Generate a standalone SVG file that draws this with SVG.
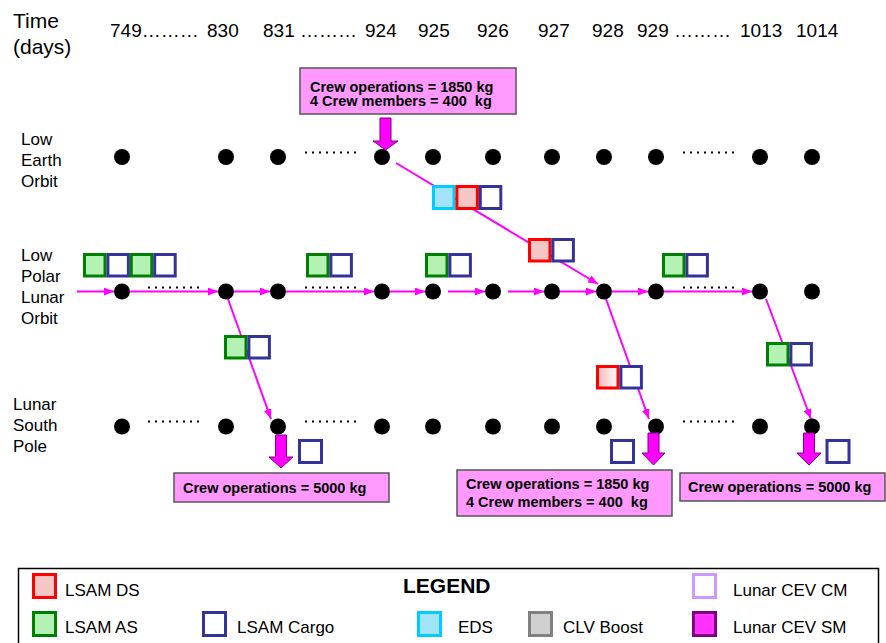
<svg xmlns="http://www.w3.org/2000/svg" width="886" height="643" viewBox="0 0 886 643">
<style>
text{font-family:"Liberation Sans",Arial,sans-serif;fill:#000}
.hdr{font-size:19px}
.lbl{font-size:17px}
.ell{stroke:#000;stroke-width:2;stroke-dasharray:2 5;fill:none}
.co{font-size:14.5px;font-weight:bold}
.lg{font-size:17px}
.dot{fill:#000}
.cn{stroke:#FF00FF;stroke-width:2;fill:none;marker-end:url(#ah)}
.bx{stroke-width:3}
.g{stroke:#008000;fill:#B3F2B3}
.b{stroke:#333399;fill:#fff}
.r{stroke:#FF0000;fill:#F5C6C6}
.rg{stroke:#FF0000;fill:url(#rgrad)}
.c{stroke:#00CCFF;fill:#A3E3F7}
.gy{stroke:#808080;fill:#D0D0D0}
.cm{stroke:#CC99FF;fill:#fff}
.sm{stroke:#800080;fill:#FF33FF}
.call{fill:#FF99FF;stroke:#555;stroke-width:1.5}
.big{fill:#FF00FF;stroke:#800080;stroke-width:1}
</style>
<defs>
<marker id="ah" markerUnits="userSpaceOnUse" markerWidth="10" markerHeight="8" refX="10" refY="4" orient="auto">
<path d="M0,0 L10,4 L0,8 z" fill="#FF00FF"/>
</marker>
<linearGradient id="rgrad" x1="0" y1="0" x2="1" y2="0">
<stop offset="0" stop-color="#F5B8B8"/>
<stop offset="1" stop-color="#FFFFFF"/>
</linearGradient>
</defs>

<g id="header">
<text class="hdr" x="13" y="28" style="font-size:21px">Time</text>
<text class="hdr" x="13" y="54" style="font-size:21px">(days)</text>
<text class="hdr" x="110" y="36.5">749………</text>
<text class="hdr" x="207" y="36.5">830</text>
<text class="hdr" x="263" y="36.5">831 ………</text>
<text class="hdr" x="365" y="36.5">924</text>
<text class="hdr" x="418" y="36.5">925</text>
<text class="hdr" x="477" y="36.5">926</text>
<text class="hdr" x="538" y="36.5">927</text>
<text class="hdr" x="592" y="36.5">928</text>
<text class="hdr" x="637" y="36.5">929 ………</text>
<text class="hdr" x="740" y="36.5">1013</text>
<text class="hdr" x="796" y="36.5">1014</text>
</g>

<g id="row-labels">
<text class="lbl" x="21" y="145">Low</text>
<text class="lbl" x="21" y="166">Earth</text>
<text class="lbl" x="21" y="187">Orbit</text>
<text class="lbl" x="21" y="261">Low</text>
<text class="lbl" x="21" y="282">Polar</text>
<text class="lbl" x="21" y="303">Lunar</text>
<text class="lbl" x="21" y="324">Orbit</text>
<text class="lbl" x="13" y="410">Lunar</text>
<text class="lbl" x="13" y="431">South</text>
<text class="lbl" x="13" y="452">Pole</text>
</g>

<g id="connectors">
<line class="cn" x1="77" y1="291.5" x2="114" y2="291.5"/>
<line class="cn" x1="130" y1="291.5" x2="218" y2="291.5"/>
<line class="cn" x1="234" y1="291.5" x2="270" y2="291.5"/>
<line class="cn" x1="286" y1="291.5" x2="374" y2="291.5"/>
<line class="cn" x1="390" y1="291.5" x2="425" y2="291.5"/>
<line class="cn" x1="448" y1="291.5" x2="485" y2="291.5"/>
<line class="cn" x1="508" y1="291.5" x2="544" y2="291.5"/>
<line class="cn" x1="560" y1="291.5" x2="596" y2="291.5"/>
<line class="cn" x1="612" y1="291.5" x2="648" y2="291.5"/>
<line class="cn" x1="664" y1="291.5" x2="752" y2="291.5"/>
<line class="cn" x1="396" y1="163" x2="598" y2="284"/>
<line class="cn" x1="228" y1="299" x2="271" y2="419"/>
<line class="cn" x1="606" y1="299" x2="649" y2="419"/>
<line class="cn" x1="766" y1="299" x2="811" y2="419"/>
</g>

<g id="row-leo">
<circle class="dot" cx="122" cy="157" r="8"/>
<circle class="dot" cx="226" cy="157" r="8"/>
<circle class="dot" cx="278" cy="157" r="8"/>
<circle class="dot" cx="382" cy="157" r="8"/>
<circle class="dot" cx="433" cy="157" r="8"/>
<circle class="dot" cx="493" cy="157" r="8"/>
<circle class="dot" cx="552" cy="157" r="8"/>
<circle class="dot" cx="604" cy="157" r="8"/>
<circle class="dot" cx="656" cy="157" r="8"/>
<circle class="dot" cx="760" cy="157" r="8"/>
<circle class="dot" cx="812" cy="157" r="8"/>
<line class="ell" x1="305" y1="152.5" x2="358" y2="152.5"/>
<line class="ell" x1="683" y1="152.5" x2="736" y2="152.5"/>
</g>

<g id="row-lplo">
<circle class="dot" cx="122" cy="291.5" r="8"/>
<circle class="dot" cx="226" cy="291.5" r="8"/>
<circle class="dot" cx="278" cy="291.5" r="8"/>
<circle class="dot" cx="382" cy="291.5" r="8"/>
<circle class="dot" cx="433" cy="291.5" r="8"/>
<circle class="dot" cx="493" cy="291.5" r="8"/>
<circle class="dot" cx="552" cy="291.5" r="8"/>
<circle class="dot" cx="604" cy="291.5" r="8"/>
<circle class="dot" cx="656" cy="291.5" r="8"/>
<circle class="dot" cx="760" cy="291.5" r="8"/>
<circle class="dot" cx="812" cy="291.5" r="8"/>
<line class="ell" x1="148" y1="287.5" x2="201" y2="287.5"/>
<line class="ell" x1="305" y1="287.5" x2="358" y2="287.5"/>
<line class="ell" x1="683" y1="287.5" x2="736" y2="287.5"/>
</g>

<g id="row-lsp">
<circle class="dot" cx="122" cy="426.5" r="8"/>
<circle class="dot" cx="226" cy="426.5" r="8"/>
<circle class="dot" cx="278" cy="426.5" r="8"/>
<circle class="dot" cx="382" cy="426.5" r="8"/>
<circle class="dot" cx="433" cy="426.5" r="8"/>
<circle class="dot" cx="493" cy="426.5" r="8"/>
<circle class="dot" cx="552" cy="426.5" r="8"/>
<circle class="dot" cx="604" cy="426.5" r="8"/>
<circle class="dot" cx="656" cy="426.5" r="8"/>
<circle class="dot" cx="760" cy="426.5" r="8"/>
<circle class="dot" cx="812" cy="426.5" r="8"/>
<line class="ell" x1="148" y1="421.5" x2="201" y2="421.5"/>
<line class="ell" x1="305" y1="421.5" x2="358" y2="421.5"/>
<line class="ell" x1="683" y1="421.5" x2="736" y2="421.5"/>
</g>

<g id="payload-749">
<rect class="bx g" x="84.5" y="254.5" width="20.5" height="21.5"/>
<rect class="bx b" x="107.9" y="254.5" width="20.5" height="21.5"/>
<rect class="bx g" x="131.3" y="254.5" width="20.5" height="21.5"/>
<rect class="bx b" x="154.7" y="254.5" width="20.5" height="21.5"/>
</g>
<g id="payload-831">
<rect class="bx g" x="307.5" y="254.5" width="20.5" height="21.5"/>
<rect class="bx b" x="330.9" y="254.5" width="20.5" height="21.5"/>
</g>
<g id="payload-925">
<rect class="bx g" x="426.5" y="254.5" width="20.5" height="21.5"/>
<rect class="bx b" x="449.9" y="254.5" width="20.5" height="21.5"/>
</g>
<g id="payload-929">
<rect class="bx g" x="663.5" y="254.5" width="20.5" height="21.5"/>
<rect class="bx b" x="686.9" y="254.5" width="20.5" height="21.5"/>
</g>
<g id="payload-eds">
<rect class="bx c" x="433.5" y="186.5" width="20.5" height="22"/>
<rect class="bx r" x="456.9" y="186.5" width="20.5" height="22"/>
<rect class="bx b" x="480.3" y="186.5" width="20.5" height="22"/>
</g>
<g id="payload-927">
<rect class="bx r" x="529.5" y="239.5" width="20.5" height="21.5"/>
<rect class="bx b" x="552.9" y="239.5" width="20.5" height="21.5"/>
</g>
<g id="payload-830-descent">
<rect class="bx g" x="225.5" y="336.5" width="20.5" height="21.5"/>
<rect class="bx b" x="248.9" y="336.5" width="20.5" height="21.5"/>
</g>
<g id="payload-928-descent">
<rect class="bx rg" x="597.5" y="366.5" width="20.5" height="21.5"/>
<rect class="bx b" x="620.9" y="366.5" width="20.5" height="21.5"/>
</g>
<g id="payload-1013-descent">
<rect class="bx g" x="767.5" y="343.5" width="20.5" height="21.5"/>
<rect class="bx b" x="790.9" y="343.5" width="20.5" height="21.5"/>
</g>
<g id="cargo-831">
<rect class="bx b" x="299.5" y="440.5" width="22" height="22"/>
</g>
<g id="cargo-928">
<rect class="bx b" x="611.5" y="440.5" width="22" height="22"/>
</g>
<g id="cargo-1014">
<rect class="bx b" x="827" y="440.5" width="22" height="22"/>
</g>

<g id="arrow-924">
<path class="big" d="M380,118 H391 V141 H398 L385.5,150 L373,141 H380 Z"/>
</g>
<g id="arrow-831">
<path class="big" d="M275.5,435 H286.5 V457 H293 L281,468 L269,457 H275.5 Z"/>
</g>
<g id="arrow-929">
<path class="big" d="M648,433 H659 V453 H665 L653.5,465 L642,453 H648 Z"/>
</g>
<g id="arrow-1014">
<path class="big" d="M803.5,433 H814.5 V453 H821 L809,465 L797,453 H803.5 Z"/>
</g>

<g id="callout-924">
<rect class="call" x="300" y="68" width="216" height="46"/>
<text class="co" x="310" y="91.5">Crew operations = 1850 kg</text>
<text class="co" x="310" y="106" xml:space="preserve">4 Crew members = 400  kg</text>
</g>
<g id="callout-831">
<rect class="call" x="174" y="473" width="215" height="29"/>
<text class="co" x="183" y="493">Crew operations = 5000 kg</text>
</g>
<g id="callout-929">
<rect class="call" x="457" y="470" width="215" height="46"/>
<text class="co" x="466" y="488.5">Crew operations = 1850 kg</text>
<text class="co" x="466" y="506.5" xml:space="preserve">4 Crew members = 400  kg</text>
</g>
<g id="callout-1014">
<rect class="call" x="680" y="473" width="205" height="28"/>
<text class="co" x="688" y="492">Crew operations = 5000 kg</text>
</g>

<g id="legend">
<rect x="18.5" y="568.5" width="860" height="90" fill="#fff" stroke="#000" stroke-width="1.5"/>
<text x="403" y="593" style="font-size:21px;font-weight:bold">LEGEND</text>
<rect class="bx r" x="33.5" y="574.5" width="22" height="23"/>
<text class="lg" x="65" y="596">LSAM DS</text>
<rect class="bx g" x="33.5" y="612.5" width="22" height="23"/>
<text class="lg" x="65" y="633">LSAM AS</text>
<rect class="bx b" x="203.5" y="612.5" width="22" height="23"/>
<text class="lg" x="237" y="633">LSAM Cargo</text>
<rect class="bx c" x="418.5" y="612.5" width="22" height="23"/>
<text class="lg" x="458" y="633">EDS</text>
<rect class="bx gy" x="529.5" y="612.5" width="22" height="23"/>
<text class="lg" x="563" y="633">CLV Boost</text>
<rect class="bx cm" x="693.5" y="574.5" width="22" height="23"/>
<text class="lg" x="733" y="596">Lunar CEV CM</text>
<rect class="bx sm" x="693.5" y="612.5" width="22" height="23"/>
<text class="lg" x="733" y="633">Lunar CEV SM</text>
</g>
</svg>
